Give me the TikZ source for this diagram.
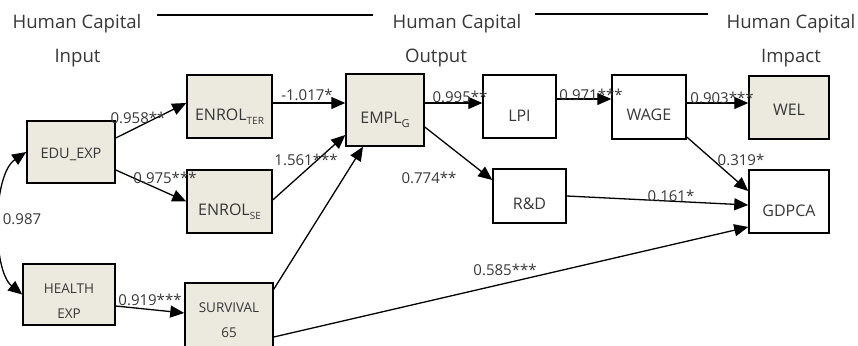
\documentclass[tikz,border=0pt]{standalone}
\usepackage{fontspec}
\setmainfont{Open Sans}
\usetikzlibrary{arrows.meta}
\definecolor{boxfill}{RGB}{236,233,223}
\definecolor{txtgray}{RGB}{55,55,55}
\begin{document}
\begin{tikzpicture}[x=1pt,y=-1pt,
  box/.style={draw=black, line width=1.5pt, inner sep=0pt, text=txtgray,
    font=\fontsize{16}{19}\selectfont, text height=27.4pt, text depth=0pt, align=center},
  filled/.style={box, fill=boxfill},
  plain/.style={box, fill=white},
  arr/.style={line width=1.3pt, -{Triangle[length=14pt,width=12pt]}},
  arrboth/.style={line width=1.3pt, {Triangle[length=14pt,width=12pt]}-{Triangle[length=14pt,width=12pt]}},
  lab/.style={anchor=base, text=txtgray, font=\fontsize{15}{18}\selectfont, inner sep=0pt},
  head/.style={anchor=base, text=txtgray, font=\fontsize{18.6}{22}\selectfont, inner sep=0pt},
  rule/.style={line width=2pt}]
\useasboundingbox (0,0) rectangle (858,345);
\clip (0,0) rectangle (858,345);

% headings
\node[head] (h1) at (77,29) {Human Capital};
\node[head] (h1b) at (77.5,63) {Input};
\node[head] (h2) at (457,28.5) {Human Capital};
\node[head] (h2b) at (436,62.5) {Output};
\node[head] (h3) at (791,28.5) {Human Capital};
\node[head] (h3b) at (791,62.5) {Impact};
\draw[rule] (157,15) -- (373,15);
\draw[rule] (535,14) -- (708,14);

% boxes
\node[filled, minimum width=88pt, minimum height=62pt, font=\fontsize{14.5}{17}\selectfont, text height=12.4pt] (edu) at (71,152) {EDU\_EXP};
\node[filled, minimum width=92pt, minimum height=61pt, font=\fontsize{13.5}{25}\selectfont, text height=50pt, text depth=3pt] (health) at (69,294.5) {HEALTH\\EXP};
\node[filled, minimum width=85pt, minimum height=63pt] (ter) at (229.5,106.5) {ENROL\raisebox{-4pt}{\fontsize{10}{12}\selectfont TER}};
\node[filled, minimum width=85pt, minimum height=63pt] (se) at (229.5,201.5) {ENROL\raisebox{-4pt}{\fontsize{10}{12}\selectfont SE}};
\node[filled, minimum width=88pt, minimum height=67pt, font=\fontsize{13.5}{25}\selectfont, text height=45pt, text depth=4pt] (surv) at (229,316.5) {SURVIVAL\\65};
\node[filled, minimum width=78pt, minimum height=72pt] (empl) at (385,110) {EMPL\raisebox{-4pt}{\fontsize{11}{12}\selectfont G}};
\node[plain, minimum width=73pt, minimum height=63pt, text height=30pt] (lpi) at (519.5,106.5) {LPI};
\node[plain, minimum width=74pt, minimum height=64pt] (wage) at (649,107) {WAGE};
\node[filled, minimum width=80pt, minimum height=63pt, text height=16.4pt] (wel) at (789,107.5) {WEL};
\node[plain, minimum width=73pt, minimum height=54pt] (rd) at (529.5,196) {R\&D};
\node[plain, minimum width=80pt, minimum height=63pt, text height=30pt] (gdpca) at (789,201.5) {GDPCA};

% connectors
\draw[arr] ([yshift=14pt]edu.east) -- ([yshift=3.5pt]ter.west);
\draw[arr] ([yshift=-18pt]edu.east) -- (se.west);
\draw[arr] ([yshift=3.5pt]ter.east) -- ([yshift=7pt]empl.west);
\draw[arr] ([yshift=1.5pt]se.east) -- ([yshift=-25pt]empl.west);
\draw[arr] ([yshift=-7pt]surv.north east) -- ([xshift=-22pt]empl.south);
\draw[arr] ([yshift=-11.5pt]health.east) -- ([yshift=3.5pt]surv.west);
\draw[arr] ([yshift=-20.5pt]surv.east) -- ([yshift=-25.5pt]gdpca.west);
\draw[arr] ([yshift=7pt]empl.east) -- ([yshift=3.5pt]lpi.west);
\draw[arr] ([yshift=7.5pt]lpi.east) -- ([yshift=8pt]wage.west);
\draw[arr] ([yshift=4pt]wage.east) -- ([yshift=4.5pt]wel.west);
\draw[arr] ([yshift=-17pt]empl.east) -- ([yshift=16pt]rd.west);
\draw[arr] ([yshift=-30pt]wage.east) -- ([yshift=10.5pt]gdpca.west);
\draw[arr] (rd.east) -- ([yshift=-3.5pt]gdpca.west);
\draw[arrboth] (edu.west) .. controls (-8,175) and (-8,270) .. (health.west);

% labels
\node[lab] (l1) at (138,123) {0.958**};
\node[lab] (l2) at (307,100) {-1.017*};
\node[lab] (l3) at (306,165) {1.561***};
\node[lab] (l4) at (165,183) {0.975***};
\node[lab] (l5) at (22,224) {0.987};
\node[lab] (l6) at (150,305) {0.919***};
\node[lab] (l7) at (429,183) {0.774**};
\node[lab] (l8) at (460,102) {0.995**};
\node[lab] (l9) at (591,100) {0.971***};
\node[lab] (l10) at (722,103) {0.903***};
\node[lab] (l11) at (741,165) {0.319*};
\node[lab] (l12) at (671,201) {0.161*};
\node[lab] (l13) at (505,275) {0.585***};
\end{tikzpicture}
\end{document}
